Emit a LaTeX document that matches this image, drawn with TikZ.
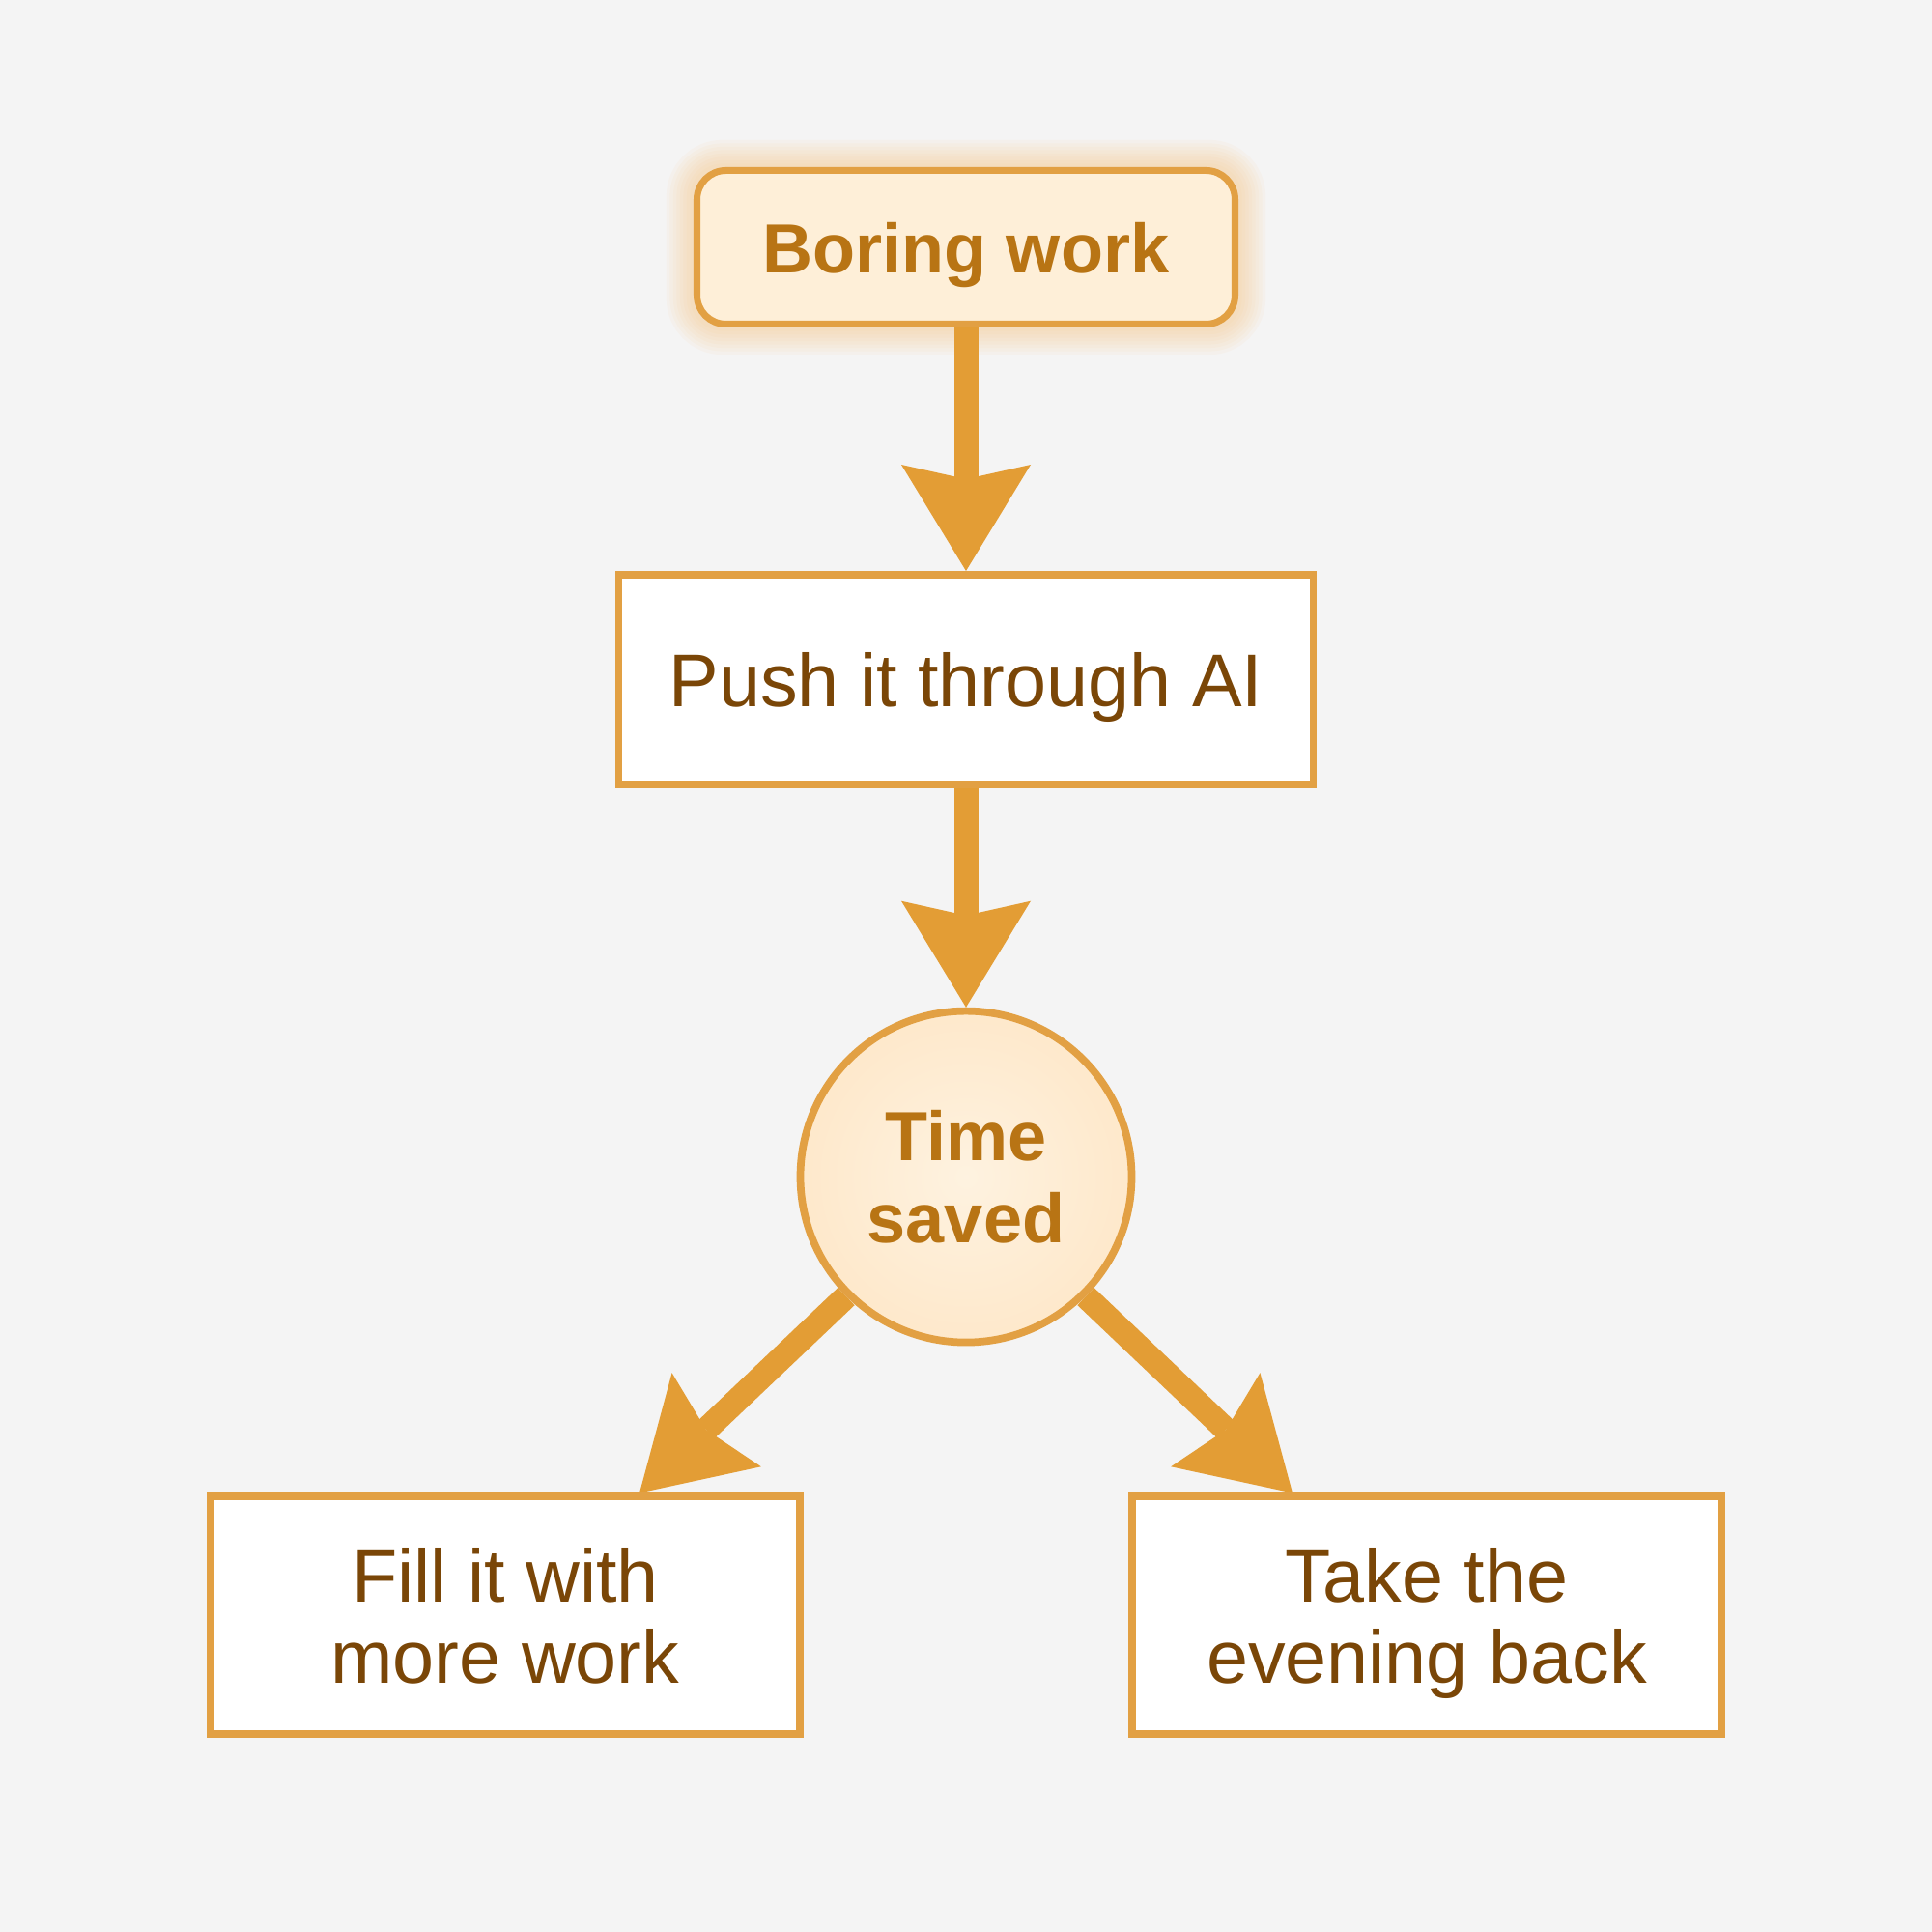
\documentclass[tikz,border=0pt]{standalone}
\usepackage{fontspec}
\setmainfont{Liberation Sans}
\usetikzlibrary{positioning,arrows.meta,backgrounds}
\definecolor{bgcol}{HTML}{F4F4F4}
\definecolor{edgeorange}{HTML}{E2A043}
\definecolor{arroworange}{HTML}{E39D35}
\definecolor{boldtext}{HTML}{B87414}
\definecolor{darktext}{HTML}{7A4607}
\definecolor{paleorange}{HTML}{FEEFD8}
\definecolor{glowcol}{HTML}{F8C070}
\begin{document}
\begin{tikzpicture}[line cap=round,
    startbox/.style={draw=edgeorange,line width=2pt,rounded corners=0.3cm,fill=paleorange,
      minimum width=5.57cm,minimum height=1.59cm,text=boldtext,text depth=0pt,
      font=\fontsize{20.5pt}{24pt}\selectfont\bfseries},
    stepbox/.style={draw=edgeorange,line width=2.2pt,fill=white,text depth=0pt,
      text=darktext,align=center,font=\fontsize{22pt}{24pt}\selectfont},
    hub/.style={circle,draw=edgeorange,line width=2.2pt,inner color=paleorange!80!white,
      outer color=paleorange!94!orange,minimum size=3.43cm,text=boldtext,align=center,
      font=\fontsize{20.5pt}{24pt}\selectfont\bfseries},
    flow/.style={arroworange,line width=0.25cm,line cap=butt,
      -{Stealth[length=1.1cm,width=1.34cm,inset=0.15cm,line width=0pt]}}]
    \useasboundingbox (0,0) rectangle (20,20);
    % nodes
    \node[startbox] (boring) at (10,17.44) {Boring work};
    \node[stepbox,minimum width=7.19cm,minimum height=2.17cm,below=2.52cm of boring] (push) {Push it through AI};
    \node[hub,below=2.27cm of push] (saved) {Time\\saved};
    \node[stepbox,minimum width=6.1cm,minimum height=2.46cm,below=1.52cm of saved,xshift=-4.77cm] (fill) {Fill it with\\more work};
    \node[stepbox,minimum width=6.1cm,minimum height=2.46cm,below=1.52cm of saved,xshift=4.77cm] (evening) {Take the\\evening back};
    \begin{scope}[on background layer]
      \fill[bgcol] (0,0) rectangle (20,20);
      % soft glow round the first box
      \foreach \w in {2,4,...,16}
        \draw[glowcol,opacity=0.06,line width=\w pt,rounded corners=0.3cm]
          (boring.south west) rectangle (boring.north east);
      % connectors
      \draw[flow] (boring) -- (push);
      \draw[flow] (push) -- (saved);
      \draw[flow] (saved.225) -- ([xshift=1.39cm]fill.north);
      \draw[flow] (saved.-45) -- ([xshift=-1.39cm]evening.north);
    \end{scope}
  \end{tikzpicture}
\end{document}
